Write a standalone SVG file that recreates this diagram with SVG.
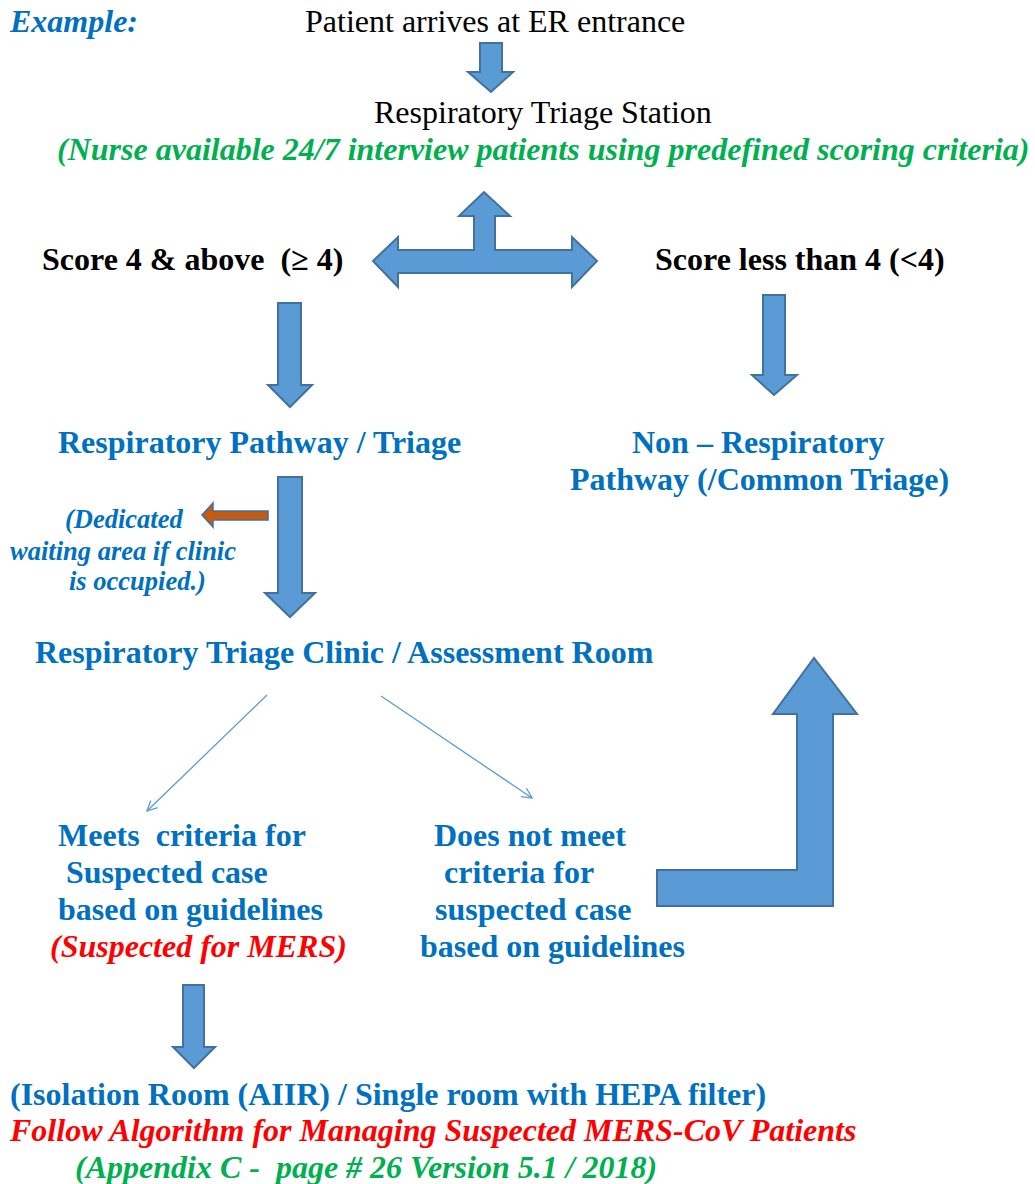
<svg xmlns="http://www.w3.org/2000/svg" width="1035" height="1184" viewBox="0 0 1035 1184">
<style>
text{font-family:"Liberation Serif","Times New Roman",serif;font-size:32px;white-space:pre}
.b{font-weight:bold}
.i{font-style:italic}
.blue{fill:#0070C0}
.green{fill:#00B050}
.red{fill:#FF0000}
.blk{fill:#000}
.sm{font-size:26.5px}
.arr{fill:#5B9BD5;stroke:#41719C;stroke-width:2;stroke-linejoin:miter}
.orange{fill:#C55A11;stroke:#41719C;stroke-width:1.5}
.thin{stroke:#5B9BD5;stroke-width:1.3;fill:none}
</style>
<defs>
<marker id="open" viewBox="0 0 12 12" refX="11" refY="6" markerWidth="12" markerHeight="12" markerUnits="userSpaceOnUse" orient="auto">
<path d="M1,1 L11,6 L1,11" fill="none" stroke="#5B9BD5" stroke-width="1.3"/>
</marker>
</defs>
<rect width="1035" height="1184" fill="#fff"/>

<g id="example"><text x="10" y="32" class="b i blue">Example:</text></g>
<g id="arrive"><text x="305" y="32" class="blk">Patient arrives at ER entrance</text></g>
<g id="station">
<text x="374" y="123" class="blk">Respiratory Triage Station</text>
<text x="57" y="160" class="b i green">(Nurse available 24/7 interview patients using predefined scoring criteria)</text>
</g>
<g id="score-high"><text x="42" y="270" class="b blk" xml:space="preserve">Score 4 &amp; above  (≥ 4)</text></g>
<g id="score-low"><text x="655" y="270" class="b blk">Score less than 4 (&lt;4)</text></g>
<g id="resp-pathway"><text x="58" y="453" class="b blue">Respiratory Pathway / Triage</text></g>
<g id="non-resp">
<text x="632" y="453" class="b blue">Non – Respiratory</text>
<text x="570" y="490" class="b blue">Pathway (/Common Triage)</text>
</g>
<g id="waiting">
<text x="65" y="528" class="b i blue sm">(Dedicated</text>
<text x="10" y="560" class="b i blue sm">waiting area if clinic</text>
<text x="69" y="590" class="b i blue sm">is occupied.)</text>
</g>
<g id="clinic"><text x="35" y="663" class="b blue">Respiratory Triage Clinic / Assessment Room</text></g>
<g id="meets">
<text x="58" y="846" class="b blue" xml:space="preserve">Meets  criteria for</text>
<text x="66" y="883" class="b blue">Suspected case</text>
<text x="58" y="920" class="b blue">based on guidelines</text>
<text x="50" y="957" class="b i red">(Suspected for MERS)</text>
</g>
<g id="not-meet">
<text x="434" y="846" class="b blue">Does not meet</text>
<text x="444" y="883" class="b blue">criteria for</text>
<text x="435" y="920" class="b blue">suspected case</text>
<text x="420" y="957" class="b blue">based on guidelines</text>
</g>
<g id="isolation">
<text x="10" y="1105" class="b blue">(Isolation Room (AIIR) / Single room with HEPA filter)</text>
<text x="10" y="1141" class="b i red">Follow Algorithm for Managing Suspected MERS-CoV Patients</text>
<text x="75" y="1178" class="b i green" xml:space="preserve">(Appendix C -  page # 26 Version 5.1 / 2018)</text>
</g>

<g id="connectors">
<path class="arr" d="M480,43 L502,43 L502,72 L513,72 L491,92 L468,72 L480,72 Z"/>
<path class="arr" d="M373,261 L398,237 L398,250 L474,250 L474,216 L459,216 L484,192 L510,216 L495,216 L495,250 L572,250 L572,237 L597,261 L572,287 L572,273 L398,273 L398,287 Z"/>
<path class="arr" d="M278,303 L301,303 L301,385 L312,385 L290,407 L268,385 L278,385 Z"/>
<path class="arr" d="M763,295 L785,295 L785,375 L797,375 L774,395 L752,375 L763,375 Z"/>
<path class="arr" d="M278,477 L302,477 L302,593 L315,593 L290,617 L265,593 L278,593 Z"/>
<path class="orange" d="M268,511 L268,520 L213,520 L213,527 L202,515 L213,503 L213,511 Z"/>
<line class="thin" x1="267" y1="695" x2="147" y2="811" marker-end="url(#open)"/>
<line class="thin" x1="381" y1="696" x2="532" y2="798" marker-end="url(#open)"/>
<path class="arr" d="M657,870 L797,870 L797,714 L773,714 L814,658 L857,714 L833,714 L833,906 L657,906 Z"/>
<path class="arr" d="M183,985 L204,985 L204,1047 L215,1047 L194,1068 L173,1047 L183,1047 Z"/>
</g>
</svg>
